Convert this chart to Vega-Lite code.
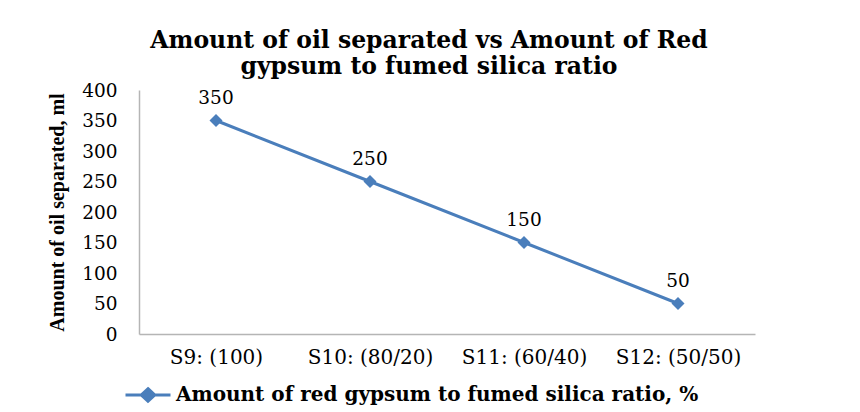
{
  "$schema": "https://vega.github.io/schema/vega-lite/v6.json",
  "autosize": {"type": "none"},
  "width": 616,
  "height": 244,
  "padding": {"left": 139, "top": 90, "right": 105, "bottom": 78},
  "background": "white",
  "title": {
    "text": ["Amount of oil separated vs Amount of Red", "gypsum to fumed silica ratio"],
    "font": "DejaVu Serif",
    "fontSize": 23.5,
    "fontWeight": "bold",
    "color": "#000000",
    "lineHeight": 26,
    "dx": -18,
    "offset": 3,
    "anchor": "middle"
  },
  "data": {
    "values": [
      {"sample": "S9: (100)", "oil": 350, "series": "Amount of red gypsum to fumed silica ratio, %"},
      {"sample": "S10: (80/20)", "oil": 250, "series": "Amount of red gypsum to fumed silica ratio, %"},
      {"sample": "S11: (60/40)", "oil": 150, "series": "Amount of red gypsum to fumed silica ratio, %"},
      {"sample": "S12: (50/50)", "oil": 50, "series": "Amount of red gypsum to fumed silica ratio, %"}
    ]
  },
  "encoding": {
    "x": {
      "field": "sample",
      "type": "nominal",
      "sort": null,
      "scale": {"paddingInner": 0, "paddingOuter": 0.5},
      "axis": {
        "title": null,
        "labelAngle": 0,
        "labelFont": "DejaVu Serif",
        "labelFontSize": 20,
        "labelColor": "#000000",
        "labelPadding": 13,
        "ticks": false,
        "domainColor": "#B5B5B5",
        "domainWidth": 1.5,
        "grid": false
      }
    },
    "y": {
      "field": "oil",
      "type": "quantitative",
      "scale": {"domain": [0, 400]},
      "axis": {
        "values": [0, 50, 100, 150, 200, 250, 300, 350, 400],
        "title": "Amount of oil separated, ml",
        "titleFont": "Liberation Serif",
        "titleFontSize": 20,
        "titleFontWeight": "bold",
        "titleColor": "#000000",
        "titleAngle": -90,
        "titleAlign": "center",
        "titleBaseline": "middle",
        "titleX": -82,
        "titleY": 122,
        "labelFont": "DejaVu Serif",
        "labelFontSize": 18.5,
        "labelColor": "#000000",
        "labelPadding": 22,
        "ticks": false,
        "domainColor": "#B5B5B5",
        "domainWidth": 1.5,
        "grid": false
      }
    }
  },
  "layer": [
    {
      "mark": {"type": "line", "strokeWidth": 3},
      "encoding": {
        "color": {
          "field": "series",
          "type": "nominal",
          "scale": {"range": ["#4A7EBB"]},
          "legend": {
            "title": null,
            "orient": "none",
            "legendX": -15,
            "legendY": 281,
            "symbolType": "M-1,0H1M0,-0.28L0.3,0L0,0.28L-0.3,0Z",
            "symbolSize": 2025,
            "symbolStrokeWidth": 3,
            "symbolStrokeColor": "#4A7EBB",
            "symbolFillColor": "#4A7EBB",
            "labelFont": "DejaVu Serif",
            "labelFontSize": 20,
            "labelFontWeight": "bold",
            "labelColor": "#000000",
            "labelLimit": 700,
            "labelOffset": 4
          }
        }
      }
    },
    {
      "mark": {"type": "point", "shape": "diamond", "size": 170, "filled": true, "opacity": 1, "color": "#4A7EBB"}
    },
    {
      "mark": {"type": "text", "font": "DejaVu Serif", "fontSize": 18.5, "color": "#000000", "dy": -23, "baseline": "middle"},
      "encoding": {"text": {"field": "oil", "type": "quantitative"}}
    }
  ],
  "config": {"view": {"stroke": null}}
}
